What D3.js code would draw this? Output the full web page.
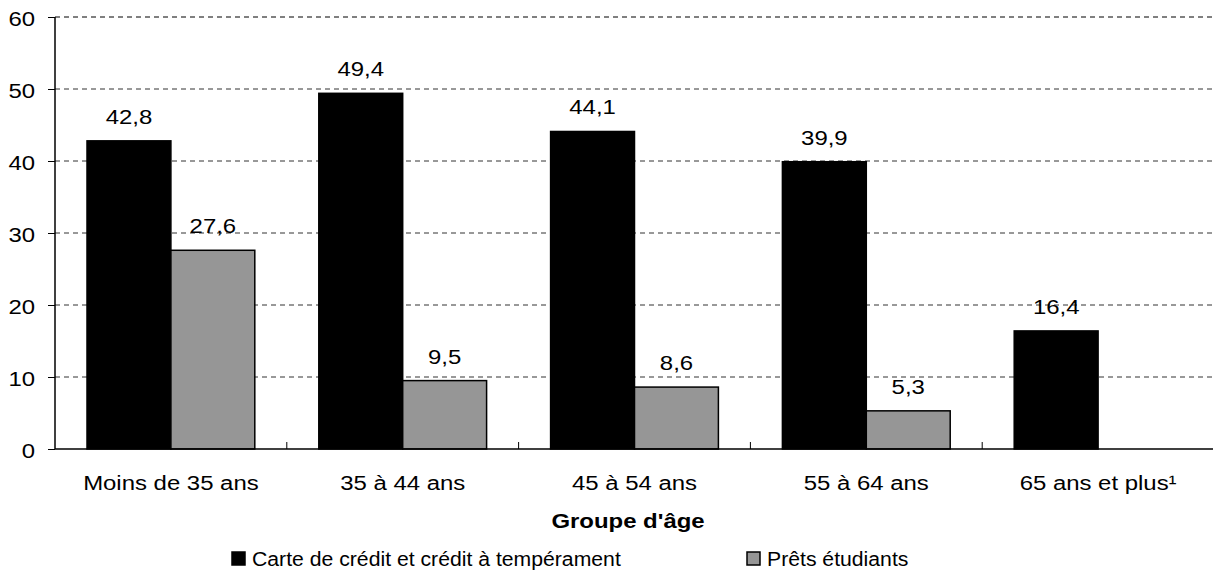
<!DOCTYPE html>
<html>
<head>
<meta charset="utf-8">
<script src="https://cdn.jsdelivr.net/npm/d3@7"></script>
<style>
  body { margin: 0; background: #fff; }
  svg { font-family: "Liberation Sans", Arial, sans-serif; }
</style>
</head>
<body>
<svg id="chart"></svg>
<script>
const width = 1213;
const height = 573;

const groups = ['Moins de 35 ans', '35 à 44 ans', '45 à 54 ans', '55 à 64 ans', '65 ans et plus¹'];
const seriesNames = ['Carte de crédit et crédit à tempérament', 'Prêts étudiants'];
const credit = [42.8, 49.4, 44.1, 39.9, 16.4];
const etudiants = [27.6, 9.5, 8.6, 5.3, null];
const yTicks = [0, 10, 20, 30, 40, 50, 60];

const colors = ['#000000', '#969696'];
const fontSize = 21;
let stretch = 1.14; // text in the source is a bit wide

const svg = d3.select('#chart').attr('width', width).attr('height', height);

const plotLeft = 55, plotRight = 1214, plotTop = 17, plotBottom = 449;

const x = d3.scaleBand().domain(groups).range([plotLeft, plotRight]);
const xSeries = d3.scaleBand().domain([0, 1]).range([32, x.bandwidth() - 32]);
const y = d3.scaleLinear().domain([0, 60]).range([plotBottom, plotTop]);

// place text at (px,py) with horizontal stretch
function put(sel, px, py, k) {
  const s = k || stretch;
  sel.attr('transform', function(d, i) {
    const a = typeof px === 'function' ? px(d, i) : px;
    const b = typeof py === 'function' ? py(d, i) : py;
    return `translate(${a},${b}) scale(${s},1)`;
  });
}

// grid lines
svg.append('g')
  .selectAll('line')
  .data(yTicks.filter(d => d > 0))
  .join('line')
  .attr('x1', plotLeft).attr('x2', plotRight)
  .attr('y1', d => y(d)).attr('y2', d => y(d))
  .attr('stroke', d => d === 60 ? '#000' : '#333')
  .attr('stroke-width', 1)
  .attr('stroke-dasharray', '5,4');

// bars
const rows = groups.map((g, i) => [
  {g, s: 0, v: credit[i]},
  {g, s: 1, v: etudiants[i]}
]).flat().filter(d => d.v != null);

svg.append('g')
  .selectAll('rect')
  .data(rows)
  .join('rect')
  .attr('x', d => x(d.g) + xSeries(d.s))
  .attr('width', xSeries.bandwidth())
  .attr('y', d => y(d.v))
  .attr('height', d => y(0) - y(d.v))
  .attr('fill', d => colors[d.s])
  .attr('stroke', '#000')
  .attr('stroke-width', 1.5);

// value labels
svg.append('g')
  .selectAll('text')
  .data(rows)
  .join('text')
  .call(put, d => x(d.g) + xSeries(d.s) + xSeries.bandwidth() / 2, d => y(d.v) - 17)
  .attr('text-anchor', 'middle')
  .attr('font-size', fontSize)
  .text(d => d.v.toFixed(1).replace('.', ','));

// y axis
const yAxis = svg.append('g')
  .attr('transform', `translate(${plotLeft},0)`)
  .call(d3.axisLeft(y).tickValues(yTicks).tickSize(7).tickPadding(0));
yAxis.select('.domain').attr('stroke', '#000').attr('stroke-width', 1.5).attr('d', `M0,${plotTop}V${plotBottom}`);
yAxis.selectAll('.tick line').attr('stroke', '#000');
yAxis.selectAll('.tick text')
  .attr('x', null).attr('dy', null)
  .call(put, -20, 8)
  .attr('font-size', fontSize).attr('font-family', '"Liberation Sans", Arial, sans-serif').attr('fill', '#000');

// x axis
const xAxis = svg.append('g')
  .attr('transform', `translate(0,${plotBottom})`)
  .call(d3.axisBottom(x).tickSize(0));
xAxis.select('.domain').attr('stroke', '#000').attr('stroke-width', 1.5).attr('d', `M${plotLeft},0H${plotRight}`);
xAxis.selectAll('.tick text')
  .attr('y', null).attr('dy', null)
  .call(put, 0, 41)
  .attr('font-size', fontSize).attr('font-family', '"Liberation Sans", Arial, sans-serif').attr('fill', '#000');

// category separators
svg.append('g')
  .selectAll('line')
  .data(groups.slice(1))
  .join('line')
  .attr('x1', d => x(d)).attr('x2', d => x(d))
  .attr('y1', plotBottom - 7).attr('y2', plotBottom)
  .attr('stroke', '#000').attr('stroke-width', 1);

// axis title
svg.append('text')
  .call(put, 628, 528)
  .attr('text-anchor', 'middle')
  .attr('font-size', 21)
  .attr('font-weight', 'bold')
  .text("Groupe d'âge");

// legend
const legendX = [232, 747];
const legend = svg.append('g')
  .selectAll('g')
  .data(seriesNames)
  .join('g')
  .attr('transform', (d, i) => `translate(${legendX[i]},552)`);
legend.append('rect')
  .attr('width', 13).attr('height', 13)
  .attr('fill', (d, i) => colors[i])
  .attr('stroke', '#000').attr('stroke-width', 1.5);
legend.append('text')
  .call(put, 20, 14, 1.01)
  .attr('font-size', fontSize)
  .text(d => d);
</script>
</body>
</html>
